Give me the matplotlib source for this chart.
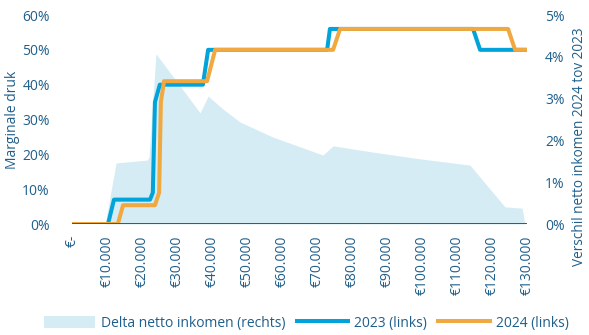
import matplotlib.pyplot as plt
from matplotlib.patches import Patch
from matplotlib.lines import Line2D

plt.rcParams['font.family'] = ['Open Sans', 'DejaVu Sans']

# marginale druk (links, %)
inkomen_2023 = [0, 10300, 12000, 22300, 23100, 23700, 25100, 37400, 38900,
                72900, 73700, 114600, 116600, 130000]
druk_2023 = [0, 0, 7, 7, 9, 35, 40, 40, 50, 50, 56, 56, 50, 50]

inkomen_2024 = [0, 13100, 14600, 23700, 24900, 25400, 26300, 38600, 40900,
                74600, 76600, 124600, 126600, 130000]
druk_2024 = [0, 0, 5.4, 5.4, 9, 35, 41, 41, 50, 50, 56, 56, 50, 50]

# verschil netto inkomen 2024 t.o.v. 2023 (rechts, %)
inkomen_delta = [0, 9500, 12600, 21500, 22000, 24000, 36600, 38900, 43000,
                 48000, 57400, 71700, 74600, 86000, 99400, 113700, 123700,
                 128600, 129400, 130000]
delta = [0, 0, 1.46, 1.53, 1.6, 4.07, 2.66, 3.06, 2.76,
         2.44, 2.08, 1.65, 1.87, 1.72, 1.56, 1.41, 0.41,
         0.38, 0, 0]

xticks = list(range(0, 130001, 10000))
xlabels = ['€-'] + ['€{:,}'.format(v).replace(',', '.') for v in xticks[1:]]

tekst = '#1F5F8B'
blauw = '#00A3DA'
oranje = '#F0A941'
vlak = '#D5ECF4'

fig = plt.figure(figsize=(5.89, 3.35), dpi=100)
ax = fig.add_axes([0.1222, 0.3313, 0.7725, 0.6239])
ax2 = ax.twinx()
ax.set_zorder(ax2.get_zorder() + 1)
ax.patch.set_visible(False)

ax2.fill_between(inkomen_delta, [d / 100 for d in delta], color=vlak, lw=0)
ax.plot(inkomen_2023, [d / 100 for d in druk_2023], color=blauw, lw=2.9,
        solid_joinstyle='round', solid_capstyle='round')
ax.plot(inkomen_2024, [d / 100 for d in druk_2024], color=oranje, lw=2.9,
        solid_joinstyle='round', solid_capstyle='round')
ax.axhline(0, color=tekst, lw=1.4, zorder=5)

ax.set_xlim(0, 130000)
ax.set_ylim(0, 0.6)
ax2.set_ylim(0, 0.05)
ax.set_xticks(xticks)
ax.set_xticklabels(xlabels, rotation=90)
ax.set_yticks([i / 10 for i in range(7)])
ax.set_yticklabels(['{}%'.format(i * 10) for i in range(7)])
ax2.set_yticks([i / 100 for i in range(6)])
ax2.set_yticklabels(['{}%'.format(i) for i in range(6)])

for a in (ax, ax2):
    for s in a.spines.values():
        s.set_visible(False)
    a.tick_params(length=0, labelsize=10, labelcolor=tekst)
ax.tick_params(axis='y', pad=16)
ax.tick_params(axis='x', pad=8)
ax2.tick_params(axis='y', pad=13)

ax.set_ylabel('Marginale druk', color=tekst, fontsize=10)
ax.yaxis.set_label_coords(-0.114, 0.5)
ax2.set_ylabel('Verschil netto inkomen 2024 tov 2023', color=tekst, fontsize=9.8)
ax2.yaxis.set_label_coords(1.099, 0.37)

handles = [Patch(color=vlak, lw=0),
           Line2D([], [], color=blauw, lw=2.9),
           Line2D([], [], color=oranje, lw=2.9)]
fig.legend(handles, ['Delta netto inkomen (rechts)', '2023 (links)', '2024 (links)'],
           loc='lower center', bbox_to_anchor=(0.52, -0.025), ncol=3, frameon=False,
           fontsize=10, labelcolor=tekst, handlelength=3.7, handleheight=1.0,
           columnspacing=0.8, handletextpad=0.45)

fig.savefig('out.png', dpi=100)
